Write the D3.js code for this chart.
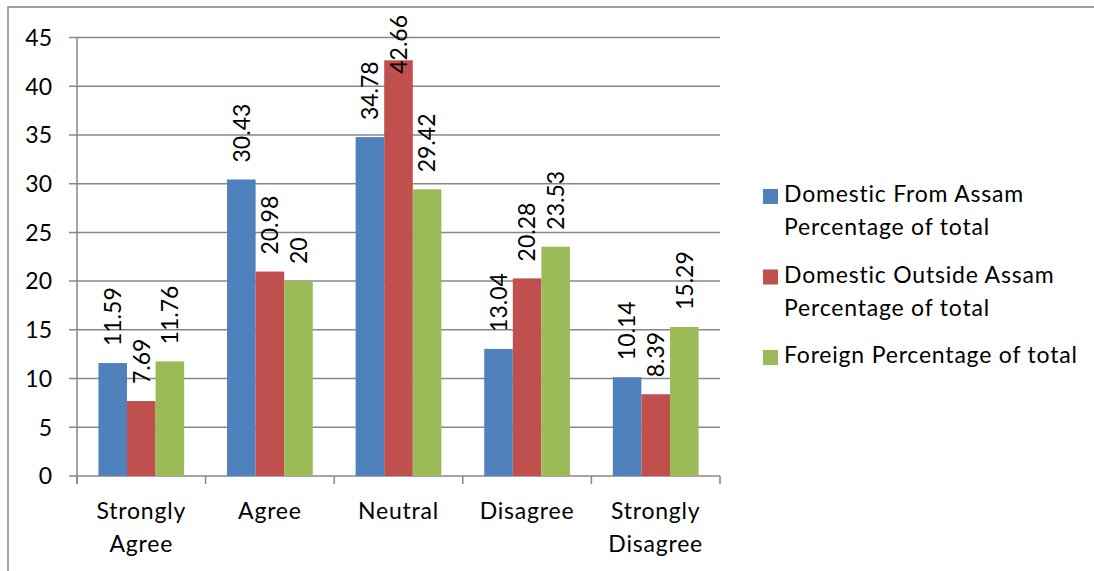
<!DOCTYPE html>
<html>
<head>
<meta charset="utf-8">
<script src="https://cdn.jsdelivr.net/npm/d3@7"></script>
<style>
  html, body { margin: 0; padding: 0; background: #fff; }
  svg { display: block; font-family: Lato, "Open Sans", sans-serif; font-variant-ligatures: none; }
  .wide { letter-spacing: 0.8px; }
</style>
</head>
<body>
<svg id="chart" width="1094" height="571"></svg>
<script>
// Survey responses by group (percentage of total)
const categories = ["Strongly Agree", "Agree", "Neutral", "Disagree", "Strongly Disagree"];
const seriesNames = [
  "Domestic From Assam Percentage of total",
  "Domestic Outside Assam Percentage of total",
  "Foreign Percentage of total"
];
const domesticFromAssam = [11.59, 30.43, 34.78, 13.04, 10.14];
const domesticOutsideAssam = [7.69, 20.98, 42.66, 20.28, 8.39];
const foreign = [11.76, 20, 29.42, 23.53, 15.29];
const seriesColors = ["#4F81BD", "#C0504D", "#9BBB59"];
const yTickValues = [0, 5, 10, 15, 20, 25, 30, 35, 40, 45];

const seriesValues = [domesticFromAssam, domesticOutsideAssam, foreign];

const svg = d3.select("#chart");
const W = 1094, H = 571;
const plot = { left: 77, right: 720, top: 37.5, bottom: 476 };
const fontSize = 23;
const gridColor = "#878787";

// outer chart frame
svg.append("rect")
  .attr("x", 8).attr("y", 7)
  .attr("width", W + 20).attr("height", H + 20)
  .attr("fill", "none").attr("stroke", "#8a8a8a").attr("stroke-width", 1.6);

const y = d3.scaleLinear().domain([0, 45]).range([plot.bottom, plot.top]);
const x = d3.scaleBand().domain(categories).range([plot.left, plot.right]).paddingInner(0).paddingOuter(0);
const xs = d3.scaleBand().domain(d3.range(seriesNames.length)).range([0, x.bandwidth()])
  .paddingInner(0).paddingOuter(0.75);

// horizontal gridlines with their outward ticks
svg.append("g").selectAll("line").data(yTickValues).join("line")
  .attr("x1", plot.left - 8).attr("x2", plot.right)
  .attr("y1", d => y(d)).attr("y2", d => y(d))
  .attr("stroke", gridColor).attr("stroke-width", 1.5);

// y tick labels
svg.append("g").selectAll("text").data(yTickValues).join("text")
  .attr("x", 52).attr("y", d => y(d))
  .attr("dy", "0.36em")
  .attr("text-anchor", "end")
  .attr("font-size", fontSize)
  .attr("fill", "#000")
  .text(d => d);

// axis lines
svg.append("line")
  .attr("x1", plot.left).attr("x2", plot.left)
  .attr("y1", y(45)).attr("y2", y(0) + 8)
  .attr("stroke", gridColor).attr("stroke-width", 1.5);

const boundaries = categories.map(c => x(c)).concat([x(categories[categories.length - 1]) + x.bandwidth()]);
svg.append("g").selectAll("line").data(boundaries).join("line")
  .attr("x1", d => d).attr("x2", d => d)
  .attr("y1", y(0)).attr("y2", y(0) + 8)
  .attr("stroke", gridColor).attr("stroke-width", 1.5);

// word wrap helper for multi-line labels
function wrapLines(text, maxWidth, measureSel) {
  const words = text.split(" ");
  const lines = [];
  let cur = "";
  words.forEach(w => {
    const trial = cur ? cur + " " + w : w;
    measureSel.text(trial);
    if (cur && measureSel.node().getComputedTextLength() > maxWidth) {
      lines.push(cur);
      cur = w;
    } else {
      cur = trial;
    }
  });
  if (cur) lines.push(cur);
  return lines;
}
const measure = svg.append("text").attr("class", "wide").attr("font-size", fontSize).attr("opacity", 0);

// category labels
categories.forEach(c => {
  const lines = wrapLines(c, 120, measure);
  const t = svg.append("text")
    .attr("class", "wide")
    .attr("x", x(c) + x.bandwidth() / 2)
    .attr("y", 519)
    .attr("text-anchor", "middle")
    .attr("font-size", fontSize)
    .attr("fill", "#000");
  lines.forEach((ln, i) => {
    t.append("tspan").attr("x", x(c) + x.bandwidth() / 2).attr("y", 519 + i * 33).text(ln);
  });
});

// bars
const bars = [];
seriesValues.forEach((vals, si) => {
  vals.forEach((v, ci) => {
    bars.push({ si, ci, v, cat: categories[ci] });
  });
});

svg.append("g").selectAll("rect").data(bars).join("rect")
  .attr("x", d => x(d.cat) + xs(d.si))
  .attr("y", d => y(d.v))
  .attr("width", xs.bandwidth())
  .attr("height", d => y(0) - y(d.v))
  .attr("fill", d => seriesColors[d.si]);

// rotated value labels above each bar, kept inside the chart area
const labelGap = 17;
const labelTopLimit = 15;
const labels = svg.append("g").selectAll("text").data(bars).join("text")
  .attr("font-size", fontSize)
  .attr("fill", "#000")
  .attr("text-anchor", "start")
  .attr("dy", "0.36em")
  .text(d => d.v);

labels.each(function(d) {
  const len = this.getComputedTextLength();
  let startY = y(d.v) - labelGap;
  if (startY - len < labelTopLimit) startY = labelTopLimit + len;
  const cx = x(d.cat) + xs(d.si) + xs.bandwidth() / 2;
  d3.select(this).attr("transform", `translate(${cx},${startY}) rotate(-90)`);
});

// legend
const legend = svg.append("g");
let ly = 202;
seriesNames.forEach((name, si) => {
  const lines = wrapLines(name, 315, measure);
  legend.append("rect")
    .attr("x", 763).attr("y", ly - 13)
    .attr("width", 15).attr("height", 15)
    .attr("fill", seriesColors[si]);
  lines.forEach((ln, i) => {
    legend.append("text")
      .attr("class", "wide")
      .attr("x", 784).attr("y", ly + i * 33)
      .attr("font-size", fontSize)
      .attr("fill", "#000")
      .text(ln);
  });
  ly += lines.length * 33 + 14.5;
});
measure.remove();
</script>
</body>
</html>
